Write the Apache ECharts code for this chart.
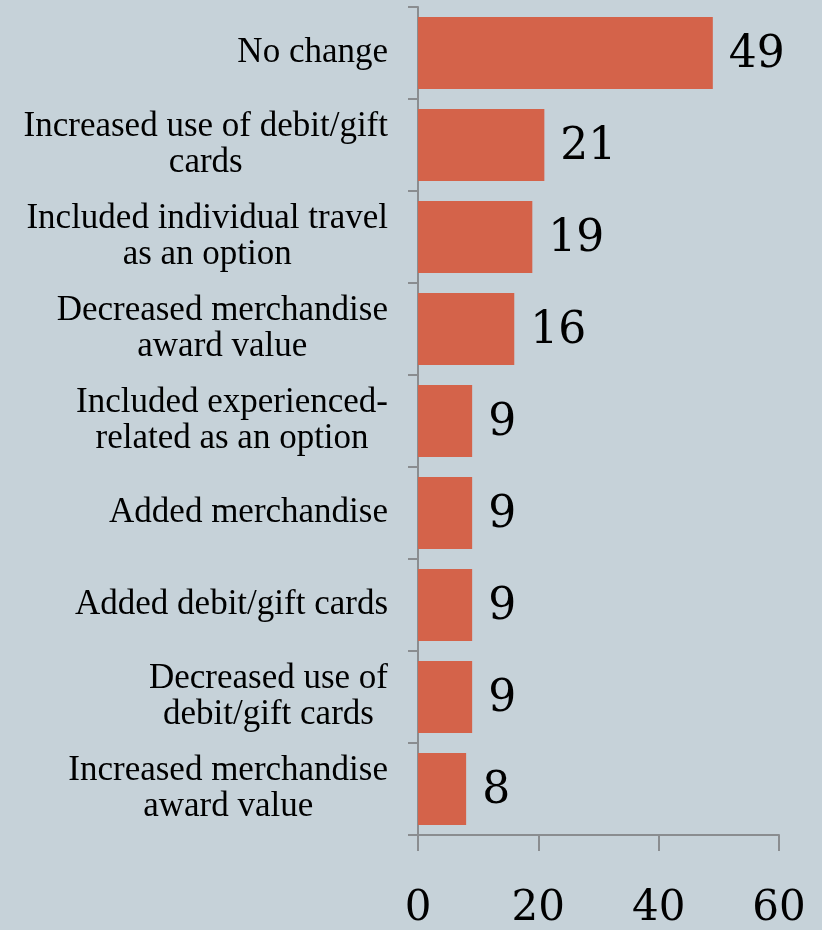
<!DOCTYPE html>
<html>
<head>
<meta charset="utf-8">
<script src="https://cdn.jsdelivr.net/npm/echarts@6/dist/echarts.min.js"></script>
<style>
  html, body { margin: 0; padding: 0; background: #c6d2d9; }
  #chart { width: 822px; height: 930px; }
</style>
</head>
<body>
<div id="chart"></div>
<script>
// Survey responses: changes made to award programs (percent of respondents)
const categories = [
  'No change',
  'Increased use of debit/gift\ncards',
  'Included individual travel\nas an option',
  'Decreased merchandise\naward value',
  'Included experienced-\nrelated as an option',
  'Added merchandise',
  'Added debit/gift cards',
  'Decreased use of\ndebit/gift cards',
  'Increased merchandise\naward value'
];
const values = [49, 21, 19, 16, 9, 9, 9, 9, 8];
const xTicks = [0, 20, 40, 60];

const axisGray = '#8a8d90';
const serif = '"Liberation Serif", "Times New Roman", serif';
const numSerif = '"DejaVu Serif", serif';

const chart = echarts.init(document.getElementById('chart'), null, { renderer: 'canvas' });
chart.setOption({
  backgroundColor: '#c6d2d9',
  animation: false,
  grid: { left: 418, right: 43, top: 7, bottom: 95 },
  xAxis: {
    type: 'value',
    min: xTicks[0],
    max: xTicks[xTicks.length - 1],
    interval: xTicks[1] - xTicks[0],
    splitLine: { show: false },
    axisLine: { show: true, lineStyle: { color: axisGray, width: 2 } },
    axisTick: { show: true, length: 16, lineStyle: { color: axisGray, width: 2 } },
    axisLabel: {
      margin: 53,
      color: '#000',
      fontFamily: numSerif,
      fontSize: 42
    }
  },
  yAxis: {
    type: 'category',
    inverse: true,
    data: categories,
    axisLine: { show: true, lineStyle: { color: axisGray, width: 2 } },
    axisTick: { show: true, length: 10, alignWithLabel: false, lineStyle: { color: axisGray, width: 2 } },
    axisLabel: {
      margin: 30,
      formatter: v => '{c|' + v + '}',
      rich: {
        c: {
          align: 'center',
          color: '#000',
          fontFamily: serif,
          fontSize: 35,
          lineHeight: 36
        }
      }
    }
  },
  series: [{
    type: 'bar',
    data: values,
    barCategoryGap: '22%',
    itemStyle: { color: '#d4634a' },
    label: {
      show: true,
      position: 'right',
      distance: 16,
      offset: [0, 3],
      color: '#000',
      fontFamily: numSerif,
      fontSize: 44
    }
  }]
});
</script>
</body>
</html>
